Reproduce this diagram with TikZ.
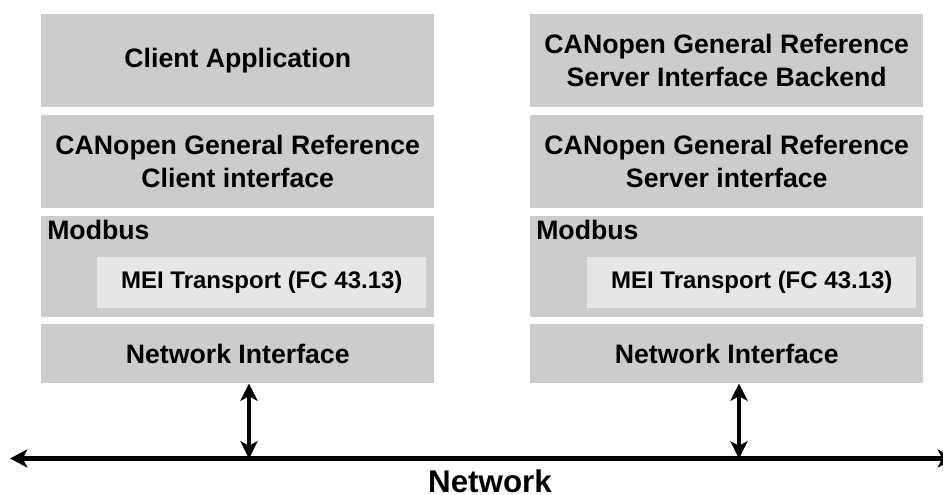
\documentclass[tikz,border=0pt]{standalone}
\usepackage{fontspec}
\setmainfont{Liberation Sans}
\usetikzlibrary{arrows.meta}
\definecolor{boxgray}{HTML}{CCCCCC}
\definecolor{innergray}{HTML}{E6E6E6}
\tikzset{
  layer/.style={fill=boxgray, inner sep=0pt, anchor=north west,
    minimum width=294.75pt, align=center,
    font=\fontsize{20}{25}\selectfont\bfseries},
  inner layer/.style={fill=innergray, inner sep=0pt, anchor=north west,
    minimum width=246.75pt, minimum height=38.25pt,
    font=\fontsize{18}{22}\selectfont\bfseries},
  tag/.style={inner sep=0pt, anchor=base west,
    font=\fontsize{20}{25}\selectfont\bfseries},
  link/.style={line width=3pt,
    {Stealth[length=13pt,width=13pt,inset=3.5pt]}-{Stealth[length=13pt,width=13pt,inset=3.5pt]}},
  bus/.style={line width=3.6pt,
    {Stealth[length=13pt,width=13.5pt,inset=3.5pt]}-{Stealth[length=13pt,width=13.5pt,inset=3.5pt]}}
}
\begin{document}
\begin{tikzpicture}[x=0.75pt,y=-0.75pt]
\useasboundingbox (0,0) rectangle (943,495);

% client stack
\node[layer, minimum height=69.75pt] (appL) at (41,14) {Client Application};
\node[layer, minimum height=69.75pt] (cgrL) at (41,115) {CANopen General Reference\\Client interface};
\node[layer, minimum height=75.75pt] (modL) at (41,216) {};
\node[tag] (modtL) at (47,240) {Modbus};
\node[inner layer] (meiL) at (97,257) {MEI Transport (FC 43.13)};
\node[layer, minimum height=44.25pt] (niL) at (41,324) {Network Interface};

% server stack
\node[layer, minimum height=69.75pt] (appR) at (530,14) {CANopen General Reference\\Server Interface Backend};
\node[layer, minimum height=69.75pt] (cgrR) at (530,115) {CANopen General Reference\\Server interface};
\node[layer, minimum height=75.75pt] (modR) at (530,216) {};
\node[tag] (modtR) at (536,240) {Modbus};
\node[inner layer] (meiR) at (587,257) {MEI Transport (FC 43.13)};
\node[layer, minimum height=44.25pt] (niR) at (530,324) {Network Interface};

% network bus
\coordinate (netW) at (10,458.5);
\coordinate (netE) at (955,458.5);
\coordinate (tapL) at (249,458.5);
\coordinate (tapR) at (739,458.5);
\draw[bus] (netW) -- (netE);
\draw[link] (niL.south -| tapL) -- (tapL);
\draw[link] (niR.south -| tapR) -- (tapR);
\node[inner sep=0pt, anchor=base, font=\fontsize{23.5}{28}\selectfont\bfseries] (netlabel) at (490,492) {Network};
\end{tikzpicture}
\end{document}
